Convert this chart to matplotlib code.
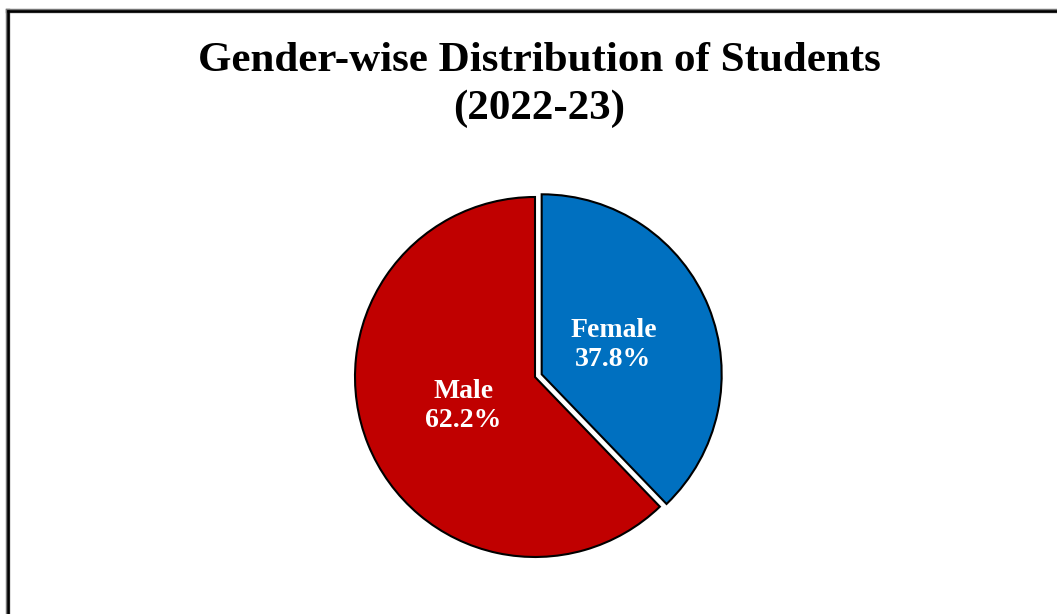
import matplotlib.pyplot as plt
from matplotlib.lines import Line2D

labels = ['Female', 'Male']
shares = [37.8, 62.2]
colors = ['#0070C0', '#C00000']
explode = [0.04, 0.0]

W, H = 1057, 614
fig = plt.figure(figsize=(W / 100, H / 100), dpi=100)
plt.rcParams['font.family'] = ['Liberation Serif', 'DejaVu Serif']

# pie centre and radius in pixels
cx, cy, r = 535, 377, 180
ax = fig.add_axes([(cx - r) / W, (H - cy - r) / H, 2 * r / W, 2 * r / H])
texts = [f'{l}\n{v}%' for l, v in zip(labels, shares)]
wedges, txts = ax.pie(shares, labels=texts, colors=colors, explode=explode,
                      startangle=90, counterclock=False, labeldistance=0.43,
                      wedgeprops=dict(edgecolor='black', linewidth=1.5),
                      textprops=dict(color='white', fontsize=20, fontweight='bold',
                                     linespacing=1.22))
for t in txts:
    t.set_ha('center')
    t.set_va('center')
ax.set_xlim(-1, 1)
ax.set_ylim(-1, 1)
ax.set_aspect('equal')
ax.axis('off')

fig.text(539 / W, 1 - 61 / H, 'Gender-wise Distribution of Students',
         ha='center', va='center', fontsize=31, fontweight='bold')
fig.text(539 / W, 1 - 109 / H, '(2022-23)',
         ha='center', va='center', fontsize=31, fontweight='bold')

# chart border (only top and left visible)
for col, lw in [('#777777', 3.2), ('black', 1.8)]:
    fig.add_artist(Line2D([8 / W, 8 / W], [0, 1 - 11 / H], color=col, lw=lw, transform=fig.transFigure))
    fig.add_artist(Line2D([8 / W, 1], [1 - 11 / H, 1 - 11 / H], color=col, lw=lw, transform=fig.transFigure))

fig.savefig('out.png', dpi=100)
